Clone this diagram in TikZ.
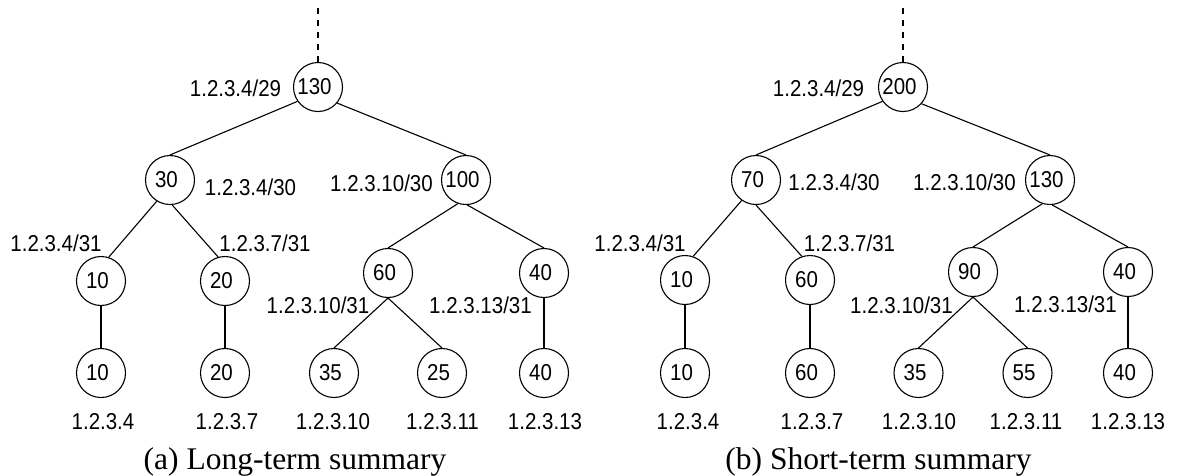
\documentclass[tikz,border=0pt]{standalone}
\usepackage{fontspec}
\usepackage{graphicx}
\setmainfont{Liberation Serif}
\setsansfont{Liberation Sans}
\newcommand\labfont{\sffamily\fontsize{20.5}{24}\selectfont}
\newcommand\capfont{\rmfamily\fontsize{31.5}{36}\selectfont}
\newcommand\vs[1]{\scalebox{1}[1.12]{#1}}
\newcommand\nt[1]{\kern-7pt\scalebox{1}[1.12]{#1}}
\begin{document}
\begin{tikzpicture}[x=1pt,y=-1pt,
  nd/.style={circle, draw, line width=1.1pt, minimum size=49pt, inner sep=0pt, font=\labfont},
  lb/.style={inner sep=0pt, font=\labfont},
  captext/.style={inner sep=0pt, font=\capfont},
  edge/.style={line width=1.1pt},
  dsh/.style={line width=1.1pt, dash pattern=on 6pt off 6pt}]
\useasboundingbox (0,0) rectangle (1179,475);
% ---------- (a) long-term ----------
\node[nd] (ar) at (318,87) {\nt{130}};
\node[nd] (a30) at (170,180) {\nt{30}};
\node[nd] (a100) at (466,180) {\nt{100}};
\node[nd] (a10) at (101,281) {\nt{10}};
\node[nd] (a20) at (225,281) {\nt{20}};
\node[nd] (a60) at (388,273) {\nt{60}};
\node[nd] (a40) at (544,273) {\nt{40}};
\node[nd] (ab10) at (101,373) {\nt{10}};
\node[nd] (ab20) at (225,373) {\nt{20}};
\node[nd] (ab35) at (334,373) {\nt{35}};
\node[nd] (ab25) at (442,373) {\nt{25}};
\node[nd] (ab40) at (544,373) {\nt{40}};
\coordinate (atop) at (318,8);
\draw[dsh] (atop) -- (ar.north);
\draw[edge] (ar.-145) -- (a30.north);
\draw[edge] (ar.-40) -- (a100.north);
\draw[edge] (a30.-122) -- (a10.72);
\draw[edge] (a30.-85) -- (a20.106);
\draw[edge] (a100.-109) -- (a60.north);
\draw[edge] (a100.-87) -- (a40.north);
\draw[edge] (a10.south) -- (ab10.north);
\draw[edge] (a20.south) -- (ab20.north);
\draw[edge] (a60.south) -- (ab35.north);
\draw[edge] (a60.south) -- (ab25.north);
\draw[edge] (a40.south) -- (ab40.north);
\node[lb] (la29) at (235.5,88) {\vs{1.2.3.4/29}};
\node[lb] (la30) at (250.5,187) {\vs{1.2.3.4/30}};
\node[lb] (la1030) at (381.5,183) {\vs{1.2.3.10/30}};
\node[lb] (la431) at (56,243) {\vs{1.2.3.4/31}};
\node[lb] (la731) at (265,243) {\vs{1.2.3.7/31}};
\node[lb] (la1031) at (318,305) {\vs{1.2.3.10/31}};
\node[lb] (la1331) at (480.5,305) {\vs{1.2.3.13/31}};
\node[lb] (lab4) at (103,422) {\vs{1.2.3.4}};
\node[lb] (lab7) at (227,422) {\vs{1.2.3.7}};
\node[lb] (lab10) at (333,422) {\vs{1.2.3.10}};
\node[lb] (lab11) at (442.5,422) {\vs{1.2.3.11}};
\node[lb] (lab13) at (545,422) {\vs{1.2.3.13}};
\node[captext] (capa) at (295,462) {(a) Long-term summary};
% ---------- (b) short-term ----------
\node[nd] (br) at (903,87) {\nt{200}};
\node[nd] (b70) at (756,180) {\nt{70}};
\node[nd] (b130) at (1050,180) {\nt{130}};
\node[nd] (b10) at (685,280) {\nt{10}};
\node[nd] (b60) at (810,280) {\nt{60}};
\node[nd] (b90) at (973,272) {\nt{90}};
\node[nd] (b40) at (1128,272) {\nt{40}};
\node[nd] (bb10) at (685,373) {\nt{10}};
\node[nd] (bb60) at (810,373) {\nt{60}};
\node[nd] (bb35) at (918.5,373) {\nt{35}};
\node[nd] (bb55) at (1027.5,373) {\nt{55}};
\node[nd] (bb40) at (1128,373) {\nt{40}};
\coordinate (btop) at (903,8);
\draw[dsh] (btop) -- (br.north);
\draw[edge] (br.-145) -- (b70.north);
\draw[edge] (br.-42) -- (b130.north);
\draw[edge] (b70.-125) -- (b10.71);
\draw[edge] (b70.-90) -- (b60.109);
\draw[edge] (b130.-108) -- (b90.north);
\draw[edge] (b130.-85) -- (b40.north);
\draw[edge] (b10.south) -- (bb10.north);
\draw[edge] (b60.south) -- (bb60.north);
\draw[edge] (b90.south) -- (bb35.north);
\draw[edge] (b90.south) -- (bb55.north);
\draw[edge] (b40.south) -- (bb40.north);
\node[lb] (lb29) at (818.5,88) {\vs{1.2.3.4/29}};
\node[lb] (lb30) at (834,182) {\vs{1.2.3.4/30}};
\node[lb] (lb1030) at (964.5,182) {\vs{1.2.3.10/30}};
\node[lb] (lb431) at (640,243) {\vs{1.2.3.4/31}};
\node[lb] (lb731) at (849.5,243) {\vs{1.2.3.7/31}};
\node[lb] (lb1031) at (901.5,305) {\vs{1.2.3.10/31}};
\node[lb] (lb1331) at (1065.5,304) {\vs{1.2.3.13/31}};
\node[lb] (lbb4) at (688,422) {\vs{1.2.3.4}};
\node[lb] (lbb7) at (812,422) {\vs{1.2.3.7}};
\node[lb] (lbb10) at (919,422) {\vs{1.2.3.10}};
\node[lb] (lbb11) at (1026,422) {\vs{1.2.3.11}};
\node[lb] (lbb13) at (1128,422) {\vs{1.2.3.13}};
\node[captext] (capb) at (878.5,462) {(b) Short-term summary};
\end{tikzpicture}
\end{document}
